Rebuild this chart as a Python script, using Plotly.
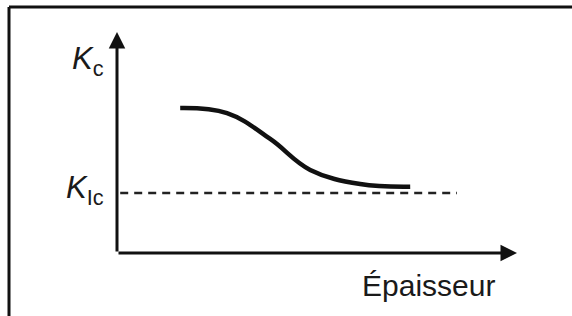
import plotly.graph_objects as go

# Data (abstract units: thickness vs toughness)
curve_x = [1.58, 2.75, 3.83, 4.83, 6.08, 7.33]
curve_y = [6.56, 6.33, 5.16, 3.76, 3.12, 3.0]
kic_level = 2.71
kic_x = [0.08, 8.5]
x_label = "Épaisseur"
y_label = "<i>K</i><sub>c</sub>"
kic_label = "<i>K</i><sub>Ic</sub>"

fig = go.Figure()
fig.add_trace(go.Scatter(x=curve_x, y=curve_y, mode="lines",
                         line=dict(color="#111", width=4.5, shape="spline", smoothing=1.1),
                         hoverinfo="skip"))
fig.add_trace(go.Scatter(x=kic_x, y=[kic_level, kic_level], mode="lines",
                         line=dict(color="#222", width=2.5, dash="8px,6px"),
                         hoverinfo="skip"))

# axes arrows (axis lines from origin)
fig.add_annotation(x=10.0, y=0, ax=0, ay=0, xref="x", yref="y", axref="x", ayref="y",
                   showarrow=True, arrowhead=2, arrowsize=1.1, arrowwidth=3,
                   arrowcolor="#111", text="")
fig.add_annotation(x=0, y=10.0, ax=0, ay=0, xref="x", yref="y", axref="x", ayref="y",
                   showarrow=True, arrowhead=2, arrowsize=1.1, arrowwidth=3,
                   arrowcolor="#111", text="")

fig.add_annotation(x=9.5, y=-2.3, xref="x", yref="y", text=x_label, showarrow=False,
                   xanchor="right", yanchor="bottom",
                   font=dict(family="Liberation Sans, Arial", size=30, color="#1a1a1a"))
fig.add_annotation(x=-0.27, y=8.7, xref="x", yref="y", text=y_label, showarrow=False,
                   xanchor="right", yanchor="middle",
                   font=dict(family="Liberation Sans, Arial", size=31, color="#1a1a1a"))
fig.add_annotation(x=-0.27, y=2.85, xref="x", yref="y", text=kic_label, showarrow=False,
                   xanchor="right", yanchor="middle",
                   font=dict(family="Liberation Sans, Arial", size=31, color="#1a1a1a"))

# frame lines (top & left)
fig.add_shape(type="line", xref="paper", yref="paper", x0=0.0, x1=1.0, y0=1, y1=1,
              line=dict(color="#111", width=3))
fig.add_shape(type="line", xref="paper", yref="paper", x0=0.0, x1=0.0, y0=0, y1=1,
              line=dict(color="#111", width=3))

# pixel mapping: x=0 -> 117px, x=10 -> 517px ; y=0 -> 253px, y=10 -> 32px
x0px, sx = 117, 40.0
y0px, sy = 253, 22.1
L, T = 9, 7
W, H = 572, 316
fig.update_layout(
    width=W, height=H,
    margin=dict(l=L, r=0, t=T, b=0),
    paper_bgcolor="white", plot_bgcolor="white",
    showlegend=False,
    xaxis=dict(range=[(L - x0px) / sx, (W - x0px) / sx], visible=False, fixedrange=True),
    yaxis=dict(range=[(y0px - H) / sy, (y0px - T) / sy], visible=False, fixedrange=True),
)
fig.write_html("out.html", config={"displayModeBar": False},
               post_script="document.body.style.margin='0';document.body.style.overflow='hidden';")
